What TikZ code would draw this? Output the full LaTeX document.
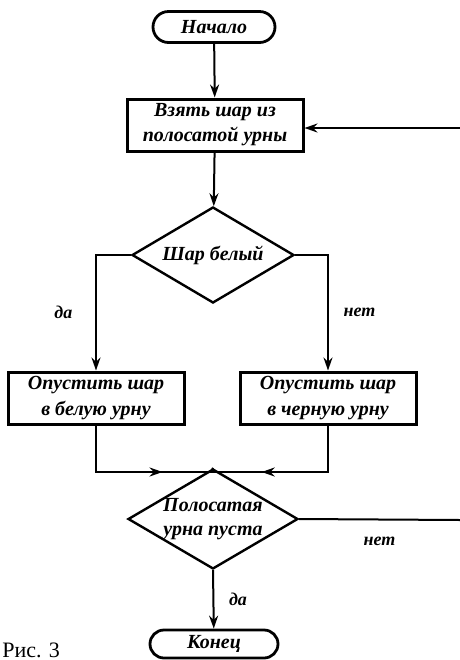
\documentclass[tikz,border=0pt]{standalone}
\usepackage{fontspec}
\setmainfont{Liberation Serif}
\usetikzlibrary{shapes.geometric,shapes.misc,arrows.meta,decorations.markings}
\tikzset{
  term/.style={rounded rectangle, draw, line width=1.4pt, minimum width=63pt,
    minimum height=15.5pt, inner sep=1pt, font=\bfseries\itshape},
  act/.style={rectangle, draw, line width=1.5pt, minimum width=88pt,
    minimum height=26pt, inner sep=1pt, align=center,
    font=\bfseries\itshape\linespread{1.05}\selectfont},
  cond/.style={diamond, draw, line width=1.2pt, minimum width=81pt,
    minimum height=48pt, aspect=1.7, inner sep=0pt, align=center,
    font=\bfseries\itshape},
  flow/.style={line width=1pt, -{Stealth[length=6.5pt,width=4.5pt]}},
  line/.style={line width=1pt},
  midarrow/.style={line width=1pt, postaction=decorate,
    decoration={markings,
      mark=at position #1 with {\arrow{Stealth[length=6.5pt,width=4.5pt]}}}},
  lbl/.style={font=\bfseries\itshape\small}
}
\begin{document}
\begin{tikzpicture}[x=0.5pt, y=-0.5pt]
  \useasboundingbox (0,0) rectangle (460,660);

  \node[term] (start) at (214,27) {Начало};
  \node[act] (take) at (215,125) {Взять шар из\\полосатой урны};
  \node[cond] (white) at (213,255) {Шар белый};
  \node[act] (dropw) at (96,398) {Опустить шар\\в белую урну};
  \node[act] (dropb) at (328,398) {Опустить шар\\в черную урну};
  \node[cond, minimum width=82pt, minimum height=47pt] (empty) at (213,519)
    {Полосатая\\урна пуста};
  \node[term, minimum width=66pt, minimum height=14pt] (stop) at (214,644) {Конец};
  \node[anchor=south west, inner sep=0pt, font=\fontsize{11}{13}\selectfont]
    (fig) at (2,658) {Рис. 3};

  \coordinate (back) at (460,128);
  \coordinate (loop) at (460,520);
  \coordinate (join) at (211,472);

  \draw[flow] (start) -- (take);
  \draw[flow] (back) -- (take.east |- back);
  \draw[flow] (take) -- (white);
  \draw[flow] (white.west) -| node[lbl, pos=0.75, left=8pt] {да} (dropw.north);
  \draw[flow] (white.east) -| node[lbl, pos=0.75, right=4pt] {нет} (dropb.north);
  \draw[midarrow=0.7] (dropw.south) |- (join);
  \draw[midarrow=0.69] (dropb.south) |- (join);
  \draw[line] (join) -- (empty.north);
  \draw[line] (empty.east) -- node[lbl, pos=0.5, below=5pt] {нет} (loop);
  \draw[flow] (empty.south) -- node[lbl, right=4pt] {да} (stop);
\end{tikzpicture}
\end{document}
